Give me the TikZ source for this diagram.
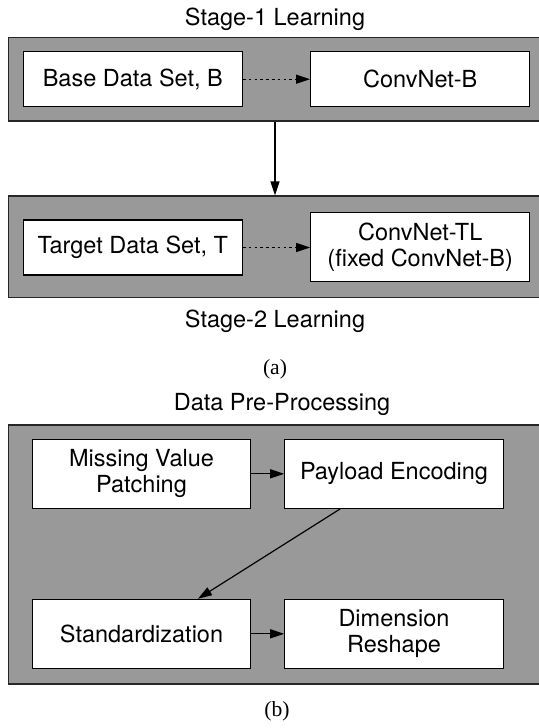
\documentclass[tikz,border=0pt]{standalone}
\usepackage{fontspec}
\setmainfont{TeX Gyre Heros}
\newfontfamily\capfont{Liberation Serif}
\usetikzlibrary{arrows.meta,calc}
\definecolor{panelgray}{RGB}{153,153,153}
\begin{document}
\begin{tikzpicture}[x=0.5pt,y=-0.5pt,
  font=\fontsize{11.75}{13}\selectfont,
  panel/.style={rectangle, draw=black!85, fill=panelgray, line width=0.6pt, inner sep=0pt},
  blk/.style={rectangle, draw=black, fill=white, line width=0.6pt, inner sep=0pt, align=center, minimum width=109.5pt},
  shortblk/.style={blk, minimum height=27.5pt},
  tallblk/.style={blk, minimum height=34.5pt},
  lbl/.style={anchor=base, inner sep=0pt},
  caplbl/.style={anchor=base, inner sep=0pt, font=\capfont\fontsize{10.8}{12}\selectfont},
  tip/.style={-{Triangle[length=7pt,width=4.5pt]}, line width=0.6pt},
  dottip/.style={tip, dash pattern=on 1.3pt off 1.6pt}
]
\useasboundingbox (0,0) rectangle (539,728);
\clip (0,0) rectangle (539,728);

% panel (a)
\node[lbl] (s1) at (275,25.7) {Stage-1 Learning};
\node[panel, minimum width=266.7pt, minimum height=41.75pt] (g1) at (275,79.25) {};
\node[shortblk] (base) at (132.8,79.2) {Base Data Set, B};
\node[shortblk] (cnnB) at (420.2,79.2) {ConvNet-B};

\node[panel, minimum width=266.7pt, minimum height=50.65pt] (g2) at (275,246.65) {};
\node[shortblk] (target) at (132.8,247.5) {Target Data Set, T};
\node[tallblk] (cnnTL) at (420.2,247.2) {ConvNet-TL\\(fixed ConvNet-B)};
\node[lbl] (s2) at (275,327.7) {Stage-2 Learning};
\node[caplbl] (capa) at (275,374) {(a)};

\draw[dottip] (base.east) -- (cnnB.west);
\draw[dottip] (target.east) -- (target.east -| cnnTL.west);
\draw[tip] (g1.south) -- (g2.north);

% panel (b)
\node[lbl] (dpp) at (282,410.7) {Data Pre-Processing};
\node[panel, minimum width=273.7pt, minimum height=129.5pt] (g3) at (282,554.5) {};
\node[tallblk, minimum width=109.2pt] (missing) at (141.5,473.8) {Missing Value\\Patching};
\node[tallblk, minimum width=109.2pt] (payload) at (394,473.8) {Payload Encoding};
\node[tallblk, minimum width=109.2pt] (stand) at (141.5,633.8) {Standardization};
\node[tallblk, minimum width=109.2pt] (dim) at (394,633.8) {Dimension\\Reshape};
\node[caplbl] (capb) at (277,716.7) {(b)};

\draw[tip] (missing.east) -- (payload.west);
\draw[tip] ([xshift=28pt]payload.south west) -- ([xshift=28.25pt]stand.north);
\draw[tip] (stand.east) -- (dim.west);
\end{tikzpicture}
\end{document}
